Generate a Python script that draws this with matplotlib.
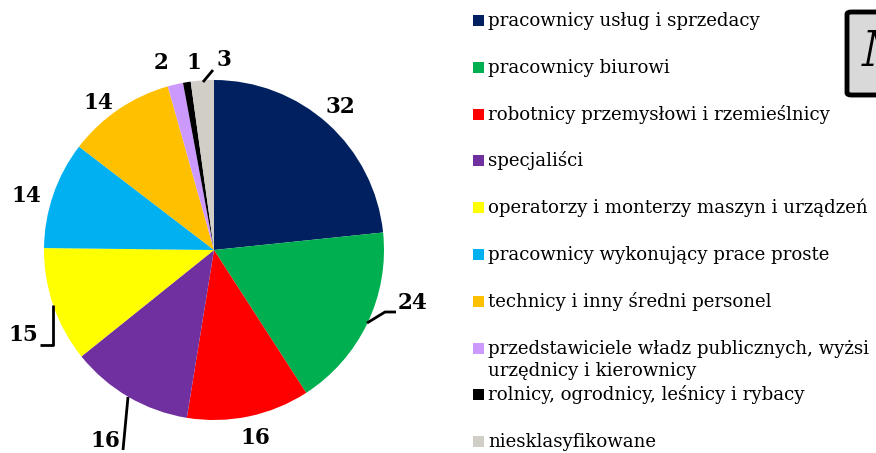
import matplotlib
matplotlib.use("Agg")
import matplotlib.pyplot as plt
from matplotlib.patches import Rectangle, FancyBboxPatch

categories = [
    "pracownicy usług i sprzedacy",
    "pracownicy biurowi",
    "robotnicy przemysłowi i rzemieślnicy",
    "specjaliści",
    "operatorzy i monterzy maszyn i urządzeń",
    "pracownicy wykonujący prace proste",
    "technicy i inny średni personel",
    "przedstawiciele władz publicznych, wyżsi\nurzędnicy i kierownicy",
    "rolnicy, ogrodnicy, leśnicy i rybacy",
    "niesklasyfikowane",
]
values = [32, 24, 16, 16, 15, 14, 14, 2, 1, 3]
colors = ["#002060", "#00B050", "#FF0000", "#7030A0", "#FFFF00",
          "#00B0F0", "#FFC000", "#CC99FF", "#000000", "#D0CEC6"]
box_title = "M"

W, H = 876, 453
fig = plt.figure(figsize=(W / 100, H / 100), dpi=100)
serif = ["DejaVu Serif"]

# pie axes: centre (214, 250) px, radius 170 px
cx, cy, r = 214, 250, 170
ax = fig.add_axes([(cx - r) / W, (H - cy - r) / H, 2 * r / W, 2 * r / H])
ax.pie(values, colors=colors, startangle=90, counterclock=False, radius=1,
       wedgeprops=dict(linewidth=0))
ax.set_xlim(-1, 1)
ax.set_ylim(-1, 1)
ax.set_axis_off()

def d(px, py):
    return ((px - cx) / r, (cy - py) / r)

label_pos = [(340, 107), (413, 303), (255, 438), (105, 441), (23, 335),
             (26, 196), (98, 103), (161, 63), (194, 63), (224, 60)]
for v, (px, py) in zip(values, label_pos):
    x, y = d(px, py)
    ax.text(x, y, str(v), ha="center", va="center", fontsize=15.5,
            fontweight="bold", family=serif, clip_on=False)

leaders = [
    [(367, 323), (385, 312), (396, 312)],
    [(53, 305), (53, 345), (40, 345)],
    [(128, 397), (123, 450)],
    [(203, 82), (213, 70)],
]
for pts in leaders:
    xs, ys = zip(*[d(*p) for p in pts])
    ax.plot(xs, ys, color="black", lw=2, clip_on=False, solid_capstyle="butt")

# legend
sq = 11
for i, (lab, col) in enumerate(zip(categories, colors)):
    base = 26 + i * 46.8
    yc = base - 5.5
    fig.patches.append(Rectangle(((473) / W, (H - yc - sq / 2) / H), sq / W, sq / H,
                                 transform=fig.transFigure, facecolor=col,
                                 edgecolor="none"))
    for j, line in enumerate(lab.split("\n")):
        fig.text(488 / W, (H - base - j * 22) / H, line, fontsize=13.1,
                 family=serif, ha="left", va="baseline")

# title box (clipped at figure edge, as in the reference)
fig.patches.append(FancyBboxPatch((847 / W, (H - 95) / H), 60 / W, 83 / H,
                                  boxstyle="round,pad=0,rounding_size=0.005",
                                  transform=fig.transFigure, facecolor="#D9D9D9",
                                  edgecolor="black", linewidth=3.5))
fig.text(862 / W, (H - 66) / H, box_title, fontsize=35, style="italic",
         family=serif, ha="left", va="baseline")

fig.savefig("out.png", dpi=100)
